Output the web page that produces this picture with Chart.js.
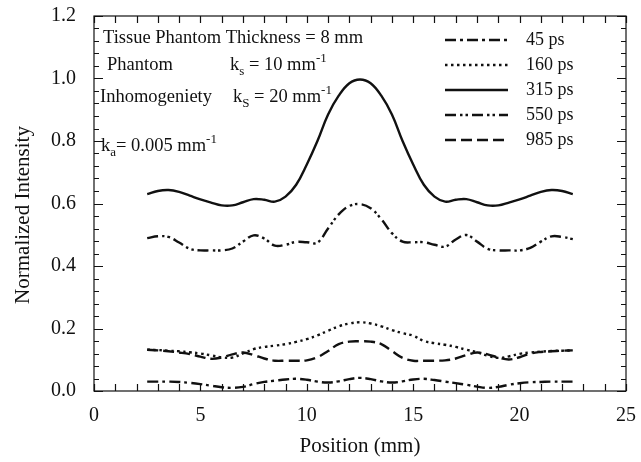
<!DOCTYPE html>
<html>
<head>
<meta charset="utf-8">
<script src="https://cdn.jsdelivr.net/npm/chart.js@4"></script>
<style>
  body { margin: 0; background: #fff; }
  #wrap { width: 641px; height: 462px; position: relative; }
</style>
</head>
<body>
<div id="wrap"><canvas id="myChart"></canvas></div>
<script>
// positions along the sample (mm), shared by all the curves
const positions = [
  2.5, 3, 3.5, 4, 4.5, 5, 5.5, 6, 6.5, 7, 7.5, 8, 8.5, 9, 9.5, 10, 10.5, 11, 11.5, 12,
  12.5, 13, 13.5, 14, 14.5, 15, 15.5, 16, 16.5, 17, 17.5, 18, 18.5, 19, 19.5, 20, 20.5,
  21, 21.5, 22, 22.5
];

const seriesLabels = ["45 ps", "160 ps", "315 ps", "550 ps", "985 ps"];

const ps45 = [
  0.030, 0.030, 0.030, 0.029, 0.026, 0.022, 0.017, 0.012, 0.010, 0.013, 0.022, 0.029,
  0.033, 0.037, 0.039, 0.036, 0.030, 0.027, 0.031, 0.038, 0.042, 0.038, 0.031, 0.027,
  0.031, 0.037, 0.039, 0.035, 0.030, 0.025, 0.020, 0.014, 0.010, 0.013, 0.020, 0.025,
  0.028, 0.029, 0.030, 0.030, 0.030
];
const ps160 = [
  0.132, 0.131, 0.129, 0.127, 0.124, 0.120, 0.114, 0.108, 0.107, 0.120, 0.134, 0.141,
  0.145, 0.150, 0.157, 0.166, 0.178, 0.193, 0.207, 0.216, 0.220, 0.216, 0.207, 0.195,
  0.185, 0.177, 0.160, 0.153, 0.148, 0.141, 0.132, 0.124, 0.113, 0.106, 0.111, 0.119,
  0.123, 0.126, 0.128, 0.129, 0.130
];
const ps315 = [
  0.630, 0.640, 0.643, 0.637, 0.625, 0.613, 0.603, 0.594, 0.594, 0.604, 0.614, 0.612,
  0.606, 0.622, 0.660, 0.725, 0.800, 0.885, 0.945, 0.985, 0.997, 0.985, 0.945, 0.885,
  0.800, 0.725, 0.660, 0.622, 0.606, 0.612, 0.614, 0.604, 0.594, 0.594, 0.603, 0.613,
  0.625, 0.637, 0.643, 0.640, 0.630
];
const ps550 = [
  0.489, 0.495, 0.493, 0.475, 0.455, 0.450, 0.450, 0.450, 0.456, 0.478, 0.498, 0.488,
  0.465, 0.468, 0.477, 0.476, 0.475, 0.520, 0.565, 0.592, 0.598, 0.585, 0.550, 0.505,
  0.478, 0.476, 0.476, 0.468, 0.462, 0.485, 0.499, 0.478, 0.455, 0.450, 0.450, 0.450,
  0.458, 0.478, 0.495, 0.493, 0.486
];
const ps985 = [
  0.132, 0.130, 0.127, 0.123, 0.118, 0.110, 0.103, 0.107, 0.117, 0.123, 0.115, 0.104,
  0.097, 0.097, 0.097, 0.098, 0.108, 0.128, 0.150, 0.158, 0.159, 0.158, 0.150, 0.128,
  0.106, 0.097, 0.097, 0.097, 0.098, 0.104, 0.115, 0.123, 0.117, 0.107, 0.101, 0.108,
  0.120, 0.125, 0.127, 0.129, 0.130
];

const seriesValues = [ps45, ps160, ps315, ps550, ps985];
const seriesDashes = [[11, 4, 3, 4], [2.5, 3.5], [], [11, 4, 2.5, 3, 2.5, 4], [11, 5]];

const xTicks = [0, 5, 10, 15, 20, 25];
const yTicks = [0, 0.2, 0.4, 0.6, 0.8, 1.0, 1.2];

const FONT = "'Liberation Serif', 'DejaVu Serif', serif";
const INK = "#111";

// text lines in the upper left corner, each part is [text, "n" | "sub" | "sup"]
const notes = [
  { x: 103, y: 43, parts: [["Tissue Phantom Thickness = 8 mm", "n"]] },
  { x: 107, y: 70, parts: [["Phantom", "n"]] },
  { x: 230, y: 70, parts: [["k", "n"], ["s", "sub"], [" = 10 mm", "n"], ["-1", "sup"]] },
  { x: 100, y: 102, parts: [["Inhomogeniety", "n"]] },
  { x: 233, y: 102, parts: [["k", "n"], ["S", "sub"], [" = 20 mm", "n"], ["-1", "sup"]] },
  { x: 101, y: 151, parts: [["k", "n"], ["a", "sub"], ["= 0.005 mm", "n"], ["-1", "sup"]] }
];

const frameAndTicks = {
  id: "frameAndTicks",
  afterDatasetsDraw(chart) {
    const ctx = chart.ctx;
    const { left, right, top, bottom } = chart.chartArea;
    const xs = chart.scales.x;
    const ys = chart.scales.y;
    ctx.save();
    ctx.strokeStyle = INK;
    ctx.lineWidth = 1.2;
    ctx.strokeRect(left, top, right - left, bottom - top);
    ctx.beginPath();
    for (let i = 0; i <= 25; i++) {
      const px = Math.round(xs.getPixelForValue(i)) + 0.5;
      ctx.moveTo(px, bottom); ctx.lineTo(px, bottom - 7);
      ctx.moveTo(px, top); ctx.lineTo(px, top + 7);
    }
    for (let i = 0; i <= 30; i++) {
      const py = Math.round(ys.getPixelForValue(i * 0.04)) + 0.5;
      const len = i % 5 === 0 ? 9 : 5;
      ctx.moveTo(left, py); ctx.lineTo(left + len, py);
      ctx.moveTo(right, py); ctx.lineTo(right - len, py);
    }
    ctx.stroke();
    ctx.restore();
  }
};

const notesAndLegend = {
  id: "notesAndLegend",
  afterDraw(chart) {
    const ctx = chart.ctx;
    ctx.save();
    ctx.fillStyle = INK;
    ctx.textBaseline = "alphabetic";
    ctx.textAlign = "left";
    notes.forEach(note => {
      let x = note.x;
      note.parts.forEach(([txt, kind]) => {
        let size = 18.5, dy = 0;
        if (kind === "sub") { size = 13; dy = 5; }
        if (kind === "sup") { size = 13; dy = -8; }
        ctx.font = size + "px " + FONT;
        ctx.fillText(txt, x, note.y + dy);
        x += ctx.measureText(txt).width;
      });
    });

    // legend inside the plot, top right
    chart.data.datasets.forEach((ds, i) => {
      const y = 40 + i * 25;
      ctx.beginPath();
      ctx.setLineDash(ds.borderDash);
      ctx.lineWidth = ds.borderWidth;
      ctx.strokeStyle = INK;
      ctx.moveTo(445, y);
      ctx.lineTo(508, y);
      ctx.stroke();
      ctx.setLineDash([]);
      ctx.font = "18px " + FONT;
      ctx.textBaseline = "middle";
      ctx.fillText(ds.label, 526, y);
    });

    // y axis title, sits a little below the middle of the axis
    ctx.translate(23, 215);
    ctx.rotate(-Math.PI / 2);
    ctx.font = "21px " + FONT;
    ctx.textAlign = "center";
    ctx.textBaseline = "middle";
    ctx.fillText("Normalized Intensity", 0, 0);
    ctx.restore();
  }
};

const datasets = seriesLabels.map((label, i) => ({
  label: label,
  data: positions.map((p, j) => ({ x: p, y: seriesValues[i][j] })),
  borderColor: INK,
  borderWidth: 2.4,
  borderDash: seriesDashes[i],
  pointRadius: 0,
  tension: 0.4,
  fill: false
}));

const ctx = document.getElementById("myChart").getContext("2d");
const myChart = new Chart(ctx, {
  type: "line",
  data: { datasets: datasets },
  plugins: [frameAndTicks, notesAndLegend],
  options: {
    responsive: true,
    maintainAspectRatio: false,
    animation: false,
    layout: { padding: { top: 16, right: 15, left: 0, bottom: 0 } },
    plugins: { legend: { display: false }, tooltip: { enabled: false } },
    scales: {
      x: {
        type: "linear",
        min: 0,
        max: 25,
        afterBuildTicks: axis => { axis.ticks = xTicks.map(v => ({ value: v })); },
        afterFit: axis => {
          axis.height = 71;
          axis.paddingLeft = 0;
          axis.paddingRight = 0;
        },
        grid: { display: false, drawTicks: false },
        border: { display: false },
        ticks: { color: INK, padding: 13, font: { family: FONT, size: 20 }, maxRotation: 0 },
        title: {
          display: true,
          text: "Position (mm)",
          color: INK,
          font: { family: FONT, size: 21 },
          padding: { top: 0, bottom: 3 }
        }
      },
      y: {
        min: 0,
        max: 1.2,
        afterBuildTicks: axis => { axis.ticks = yTicks.map(v => ({ value: v })); },
        afterFit: axis => {
          axis.width = 94;
          axis.paddingTop = 0;
          axis.paddingBottom = 0;
        },
        grid: { display: false, drawTicks: false },
        border: { display: false },
        ticks: {
          color: INK,
          padding: 18,
          font: { family: FONT, size: 20 },
          callback: v => Number(v).toFixed(1)
        }
      }
    }
  }
});
</script>
</body>
</html>
